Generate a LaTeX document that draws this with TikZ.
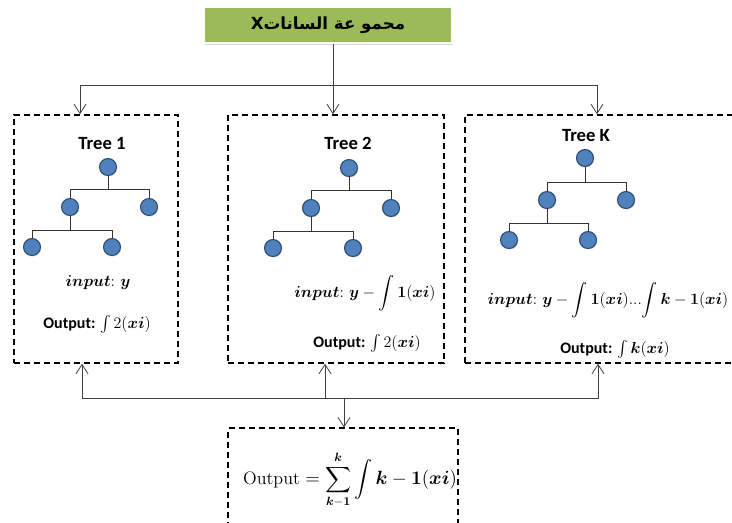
\documentclass[tikz,border=0pt]{standalone}
\usepackage{amsmath}
\usepackage{amssymb}
\usepackage{fontspec}
\setsansfont{Carlito}
\newfontfamily\arabicfont[Script=Arabic]{DejaVu Sans}
\TeXXeTstate=1
\usetikzlibrary{
    arrows.meta,
    shadows
}

\definecolor{datagreen}{HTML}{9BBB59}
\definecolor{nodeblue}{HTML}{4F81BD}
\definecolor{nodeedge}{HTML}{2C4A6E}

\begin{document}
\begin{tikzpicture}[x=0.75pt,y=-0.75pt,>={Straight Barb[length=7pt,width=9pt]},semithick]
    \tikzstyle{treebox}=[draw, line width=1.1pt, dash pattern=on 4.5pt off 3pt, minimum height=186pt, inner sep=0pt]
    \tikzstyle{leaf}=[circle, fill=nodeblue, draw=nodeedge, line width=0.8pt, minimum size=12.75pt, inner sep=0pt,
        drop shadow={shadow xshift=0.6pt, shadow yshift=-0.8pt, opacity=0.25}]
    \tikzstyle{treetitle}=[font=\sffamily\bfseries\fontsize{14}{16}\selectfont]
    \tikzstyle{formula}=[font=\fontsize{12}{14}\selectfont]
    \tikzstyle{branch}=[draw=black!80, line width=0.7pt]
    \tikzstyle{link}=[draw=black!75, line width=0.6pt]

    \useasboundingbox (0,0) rectangle (732,522);

    % data set
    \node[fill=datagreen, draw=white, line width=1.5pt, minimum width=186pt, minimum height=27pt,
        drop shadow={shadow xshift=1pt, shadow yshift=-1.5pt, opacity=0.3}] (data) at (328,25)
        {\arabicfont\bfseries\fontsize{12.5}{15}\selectfont\beginR محمو عة الساناتX\endR};

    % dashed frames
    \node[treebox, minimum width=123pt] (T1) at (96,239) {};
    \node[treebox, minimum width=162pt] (T2) at (336,239) {};
    \node[treebox, minimum width=210pt] (TK) at (605,239) {};
    \node[treebox, minimum width=172.5pt, minimum height=80pt] (sum) at (343,481.5) {};

    % tree 1
    \node[treetitle] (title1) at (102,144) {Tree 1};
    \node[leaf] (r1) at (108,167) {};
    \node[leaf] (a1) at (70,207) {};
    \node[leaf] (b1) at (149,207) {};
    \node[leaf] (c1) at (32,247) {};
    \node[leaf] (d1) at (112,247) {};
    \draw[branch] (r1.south) -- ++(0,13.5) -| (a1.north);
    \draw[branch] (r1.south) -- ++(0,13.5) -| (b1.north);
    \draw[branch] (a1.south) -- ++(0,14.5) -| (c1.north);
    \draw[branch] (a1.south) -- ++(0,14.5) -| (d1.north);
    \node[formula] (in1) at (98,283) {$\boldsymbol{input}{:}\ \boldsymbol{y}$};
    \node[formula] (out1) at (97,324) {\sffamily\bfseries Output: $\int 2(\boldsymbol{xi})$};

    % tree 2
    \node[treetitle] (title2) at (348,143) {Tree 2};
    \node[leaf] (r2) at (349,168) {};
    \node[leaf] (a2) at (311,208) {};
    \node[leaf] (b2) at (391,208) {};
    \node[leaf] (c2) at (273,248) {};
    \node[leaf] (d2) at (353,248) {};
    \draw[branch] (r2.south) -- ++(0,13.5) -| (a2.north);
    \draw[branch] (r2.south) -- ++(0,13.5) -| (b2.north);
    \draw[branch] (a2.south) -- ++(0,14.5) -| (c2.north);
    \draw[branch] (a2.south) -- ++(0,14.5) -| (d2.north);
    \node[formula] (in2) at (365,293) {$\boldsymbol{input}{:}\ \boldsymbol{y} - \displaystyle\int \boldsymbol{1}(\boldsymbol{xi})$};
    \node[formula] (out2) at (367,343) {\sffamily\bfseries Output: $\int 2(\boldsymbol{xi})$};

    % tree K
    \node[treetitle] (titleK) at (586,136) {Tree K};
    \node[leaf] (rK) at (585,158) {};
    \node[leaf] (aK) at (547,200) {};
    \node[leaf] (bK) at (626,200) {};
    \node[leaf] (cK) at (509,240) {};
    \node[leaf] (dK) at (588,240) {};
    \draw[branch] (rK.south) -- ++(0,15.5) -| (aK.north);
    \draw[branch] (rK.south) -- ++(0,15.5) -| (bK.north);
    \draw[branch] (aK.south) -- ++(0,14.5) -| (cK.north);
    \draw[branch] (aK.south) -- ++(0,14.5) -| (dK.north);
    \node[formula] (inK) at (608,300) {$\boldsymbol{input}{:}\ \boldsymbol{y} - \displaystyle\int \boldsymbol{1}(\boldsymbol{xi})\text{...}\!\int \boldsymbol{k} - \boldsymbol{1}(\boldsymbol{xi})$};
    \node[formula] (outK) at (615,349) {\sffamily\bfseries Output: $\int \boldsymbol{k}(\boldsymbol{xi})$};

    % combined output
    \node[font=\fontsize{13.5}{16}\selectfont] (total) at (350,480) {$\text{Output} = \displaystyle\sum_{\boldsymbol{k}-\boldsymbol{1}}^{\boldsymbol{k}} \int \boldsymbol{k} - \boldsymbol{1}(\boldsymbol{xi})$};

    % connectors
    \coordinate (split) at (333,85);
    \coordinate (join) at (344,398);
    \draw[link] (split |- data.south) -- (split);
    \draw[link,->] (split) -| ([xshift=-12pt]T1.north);
    \draw[link,->] (split) -- (split |- T2.north);
    \draw[link,->] (split) -| ([xshift=-6pt]TK.north);
    \draw[link,->] (join) -| ([xshift=-10.5pt]T1.south);
    \draw[link,->] (join) -| ([xshift=-8.25pt]T2.south);
    \draw[link,->] (join) -| ([xshift=-5.25pt]TK.south);
    \draw[link,->] (join) -- (join |- sum.north);
\end{tikzpicture}
\end{document}
